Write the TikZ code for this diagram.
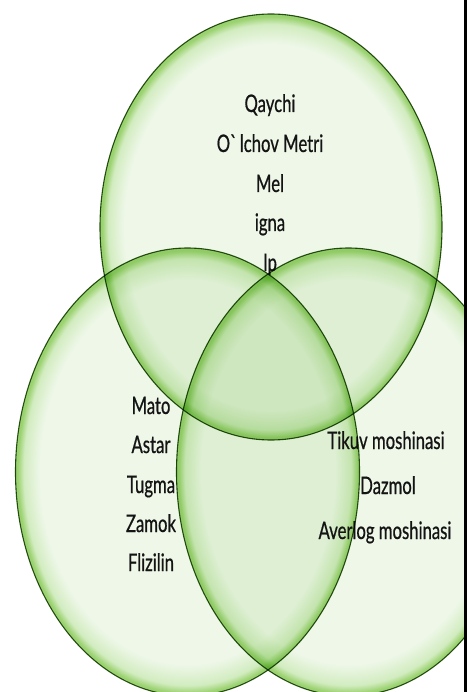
\documentclass[tikz,border=0pt]{standalone}
\usepackage{fontspec}
\setmainfont{Lato}[FakeStretch=0.69,FakeBold=0.6]
\definecolor{vpale}{RGB}{238,247,232}
\definecolor{vlight}{RGB}{210,236,192}
\definecolor{vmid}{RGB}{155,210,112}
\definecolor{rimgreen}{RGB}{45,85,25}
\definecolor{inkgrey}{RGB}{20,20,20}
\pgfdeclareradialshading{vennglow}{\pgfpoint{0bp}{0bp}}{%
  color(0bp)=(vpale); color(21.5bp)=(vpale); color(23.8bp)=(vlight);
  color(24.7bp)=(vmid); color(25bp)=(vmid); color(50bp)=(vmid)}

\begin{document}
\begin{tikzpicture}[
    x=1pt, y=-1pt,
    line join=round,
    every node/.style={font=\fontsize{24.2}{28}\selectfont,text=inkgrey,
        inner sep=0pt,anchor=base},
    venn/.style={shading=vennglow},
    rim/.style={draw=rimgreen,line width=1.1pt}
]
    \useasboundingbox (0,0) rectangle (467,692);
    \fill[white] (0,0) rectangle (467,692);

    % three sets, stretched tall as on the slide
    \coordinate (T) at (271,227);
    \coordinate (L) at (187.5,472);
    \coordinate (R) at (348.5,472);

    \begin{scope}
    \clip (0,0) rectangle (464,692);
    \begin{scope}[blend mode=multiply]
        \shade[venn] (T) ellipse [x radius=171pt,y radius=213pt];
        \shade[venn] (L) ellipse [x radius=172pt,y radius=224pt];
        \shade[venn] (R) ellipse [x radius=172pt,y radius=224pt];
    \end{scope}

    % top set
    \node (qaychi) at (270,112) {Qaychi};
    \node (olchov) at (270,152) {O\textasciigrave lchov Metri};
    \node (mel) at (270,192) {Mel};
    \node (igna) at (270,231) {igna};
    \node (ip) at (270,271) {Ip};

    % left set
    \node (mato) at (151,414) {Mato};
    \node (astar) at (151,453) {Astar};
    \node (tugma) at (151,493) {Tugma};
    \node (zamok) at (151,532) {Zamok};
    \node (flizilin) at (151,571) {Flizilin};

    % right set
    \node (tikuv) at (386,449) {Tikuv moshinasi};
    \node (dazmol) at (388,494) {Dazmol};
    \node (averlog) at (385,539) {Averlog moshinasi};

    \begin{scope}[blend mode=multiply]
        \draw[rim] (T) ellipse [x radius=171pt,y radius=213pt];
        \draw[rim] (L) ellipse [x radius=172pt,y radius=224pt];
        \draw[rim] (R) ellipse [x radius=172pt,y radius=224pt];
    \end{scope}
    \end{scope}

    \fill[black] (464,0) rectangle (467,692);
\end{tikzpicture}
\end{document}
